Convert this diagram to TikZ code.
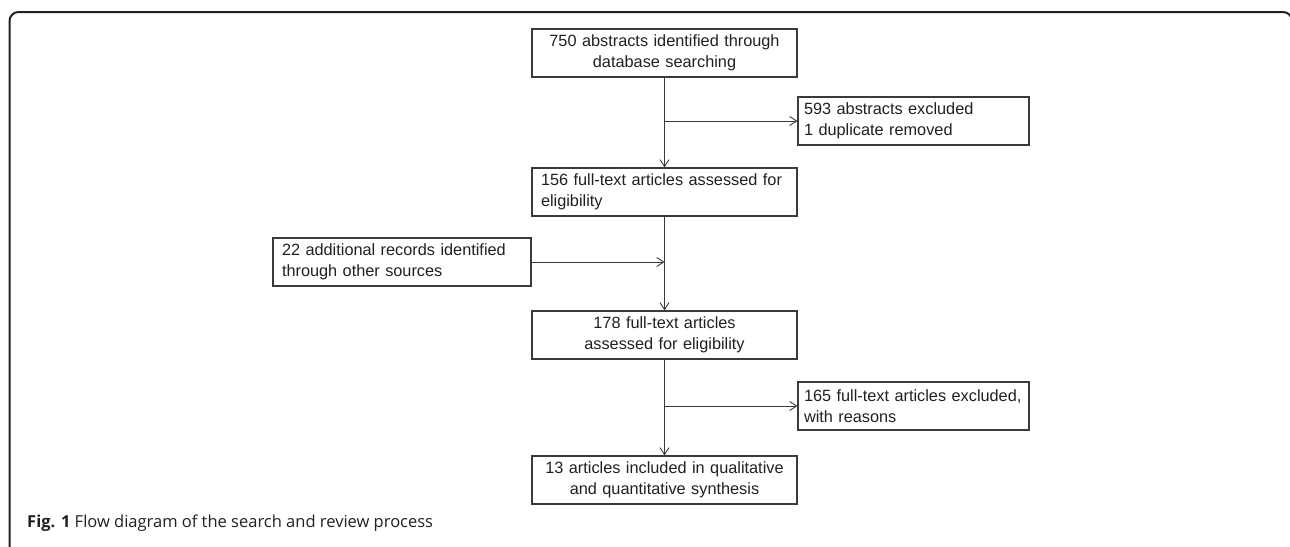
\documentclass[tikz,border=0pt]{standalone}
\usepackage{fontspec}
\setmainfont{Liberation Sans}
\newfontfamily\capfont{Open Sans}
\usetikzlibrary{arrows.meta}
\definecolor{ink}{HTML}{231F20}
\definecolor{edge}{HTML}{3A3A3A}

\begin{document}
\begin{tikzpicture}[x=1pt,y=-1pt,
  box/.style={draw=edge, line width=1.1pt, text=ink, minimum height=48pt,
    inner xsep=9pt, inner ysep=0pt, font=\fontsize{16.3}{20.5}\selectfont},
  midbox/.style={box, text width=247pt, align=center},
  sidebox/.style={box, inner xsep=6pt, text width=219pt, align=left},
  arr/.style={draw=edge, line width=0.9pt, -{Straight Barb[length=7pt,width=9pt]}},
  frm/.style={draw=ink, line width=2pt, rounded corners=9pt}]
\clip (0,0) rectangle (1290,546);
\draw[frm] (9.5,570) -- (9.5,12) -- (1292,12) -- (1292,570);

\node (abs) at (664.5,53) [midbox] {750 abstracts identified through\\database searching};
\node (excl) at (913.5,121) [sidebox] {593 abstracts excluded\\1 duplicate removed};
\node (full1) at (664.5,192) [box, text width=247pt, align=left] {156 full-text articles assessed for\\eligibility};
\node (extra) at (402,262) [box, text width=240pt, align=left] {22 additional records identified\\through other sources};
\node (full2) at (664.5,335) [midbox] {178 full-text articles\\assessed for eligibility};
\node (excl2) at (913.5,406) [sidebox] {165 full-text articles excluded,\\with reasons};
\node (incl) at (664.5,480) [midbox] {13 articles included in qualitative\\and quantitative synthesis};
\node (cap) at (27,527) [anchor=base west, inner sep=0pt, text=ink,
  font=\capfont\fontsize{16.5}{19}\selectfont] {\textbf{Fig. 1} Flow diagram of the search and review process};

\coordinate (j1) at (abs.south |- excl.west);
\coordinate (j2) at (full1.south |- extra.east);
\coordinate (j3) at (full2.south |- excl2.west);

\path
(abs) edge[arr] (full1)
(j1) edge[arr] (excl)
(extra) edge[arr] (j2)
(full1) edge[arr] (full2)
(j3) edge[arr] (excl2)
(full2) edge[arr] (incl);
\end{tikzpicture}
\end{document}
